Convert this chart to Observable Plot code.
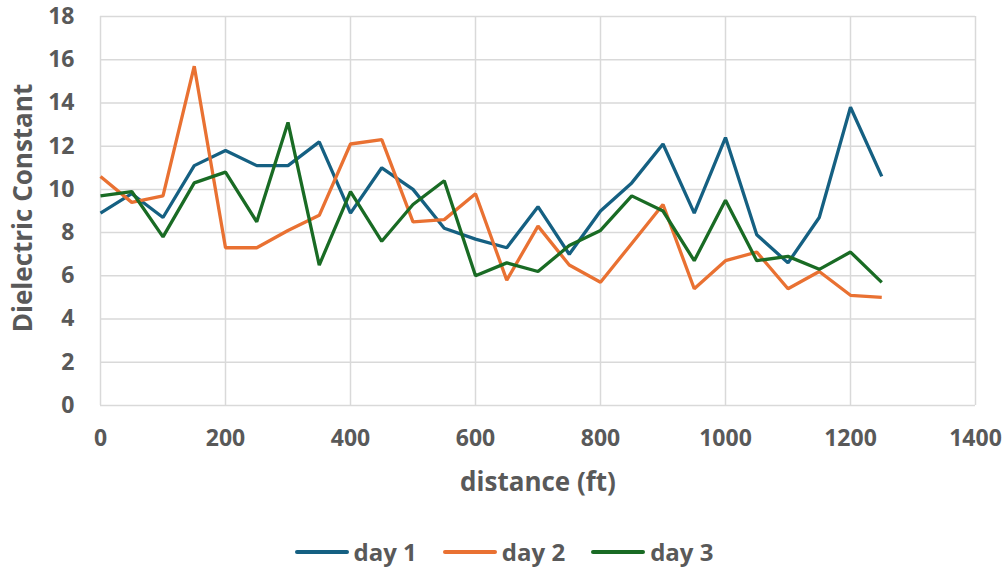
<!DOCTYPE html>
<html>
<head>
<meta charset="utf-8">
<script src="https://cdn.jsdelivr.net/npm/d3@7"></script>
<script src="https://cdn.jsdelivr.net/npm/@observablehq/plot@0.6"></script>
<style>
  html, body { margin: 0; padding: 0; background: #fff; }
  body { width: 1008px; height: 573px; overflow: hidden; font-family: "Open Sans", Roboto, sans-serif; }
  #legend { height: 63px; display: flex; justify-content: center; align-items: flex-start; padding-top: 27px; box-sizing: border-box; gap: 26px; color: #595959; font-weight: 700; font-size: 24px; }
  .item { display: flex; align-items: center; gap: 5px; line-height: 30px; }
  .swatch { width: 54px; height: 3.5px; border-radius: 2px; }
</style>
</head>
<body>
<div id="chart"></div>
<div id="legend"></div>
<script>
// Distance along the survey line (ft)
const distance = [0, 50, 100, 150, 200, 250, 300, 350, 400, 450, 500, 550, 600, 650, 700, 750, 800, 850, 900, 950, 1000, 1050, 1100, 1150, 1200, 1250];

// Dielectric constant readings per day
const day1 = [8.9, 9.8, 8.7, 11.1, 11.8, 11.1, 11.1, 12.2, 8.9, 11.0, 10.0, 8.2, 7.7, 7.3, 9.2, 7.0, 9.0, 10.3, 12.1, 8.9, 12.4, 7.9, 6.6, 8.7, 13.8, 10.6];
const day2 = [10.6, 9.4, 9.7, 15.7, 7.3, 7.3, 8.1, 8.8, 12.1, 12.3, 8.5, 8.6, 9.8, 5.8, 8.3, 6.5, 5.7, 7.5, 9.3, 5.4, 6.7, 7.1, 5.4, 6.2, 5.1, 5.0];
const day3 = [9.7, 9.9, 7.8, 10.3, 10.8, 8.5, 13.1, 6.5, 9.9, 7.6, 9.3, 10.4, 6.0, 6.6, 6.2, 7.4, 8.1, 9.7, 9.0, 6.7, 9.5, 6.7, 6.9, 6.3, 7.1, 5.7];

const seriesNames = ["day 1", "day 2", "day 3"];
const seriesColors = ["#156082", "#E97132", "#196B24"];

const xTicks = [0, 200, 400, 600, 800, 1000, 1200, 1400];
const yTicks = [0, 2, 4, 6, 8, 10, 12, 14, 16, 18];

const rows = [];
[day1, day2, day3].forEach((vals, s) => {
  vals.forEach((v, i) => rows.push({series: seriesNames[s], distance: distance[i], value: v}));
});

const textColor = "#595959";
const gridColor = "#d9d9d9";
const font = "'Open Sans', Roboto, sans-serif";

const chart = Plot.plot({
  width: 1008,
  height: 510,
  marginLeft: 100,
  marginRight: 33,
  marginTop: 16,
  marginBottom: 105,
  style: {fontFamily: font, color: textColor, background: "#fff"},
  x: {domain: [0, 1400]},
  y: {domain: [0, 18]},
  color: {domain: seriesNames, range: seriesColors},
  marks: [
    Plot.gridX(xTicks, {stroke: gridColor, strokeOpacity: 1, strokeWidth: 1.5}),
    Plot.gridY(yTicks, {stroke: gridColor, strokeOpacity: 1, strokeWidth: 1.5}),
    Plot.axisX(xTicks, {tickSize: 0, tickPadding: 24, tickFormat: d => String(d), fontSize: 23, fontWeight: 700, fill: textColor, label: null}),
    Plot.axisY(yTicks, {tickSize: 0, tickPadding: 26, tickFormat: d => String(d), fontSize: 23, fontWeight: 700, fill: textColor, label: null}),
    Plot.lineY(rows, {x: "distance", y: "value", z: "series", stroke: "series", strokeWidth: 3.3, strokeLinejoin: "miter", strokeLinecap: "butt"}),
    Plot.text(["distance (ft)"], {frameAnchor: "bottom", dy: 85, fontSize: 26, fontWeight: 700, fill: textColor}),
    Plot.text(["Dielectric Constant"], {frameAnchor: "left", textAnchor: "middle", dx: -77, dy: -3, rotate: -90, fontSize: 26, fontWeight: 700, fill: textColor})
  ]
});
document.getElementById("chart").appendChild(chart);

const legend = document.getElementById("legend");
seriesNames.forEach((name, i) => {
  const item = document.createElement("div");
  item.className = "item";
  const sw = document.createElement("span");
  sw.className = "swatch";
  sw.style.background = seriesColors[i];
  const label = document.createElement("span");
  label.textContent = name;
  item.appendChild(sw);
  item.appendChild(label);
  legend.appendChild(item);
});
</script>
</body>
</html>
